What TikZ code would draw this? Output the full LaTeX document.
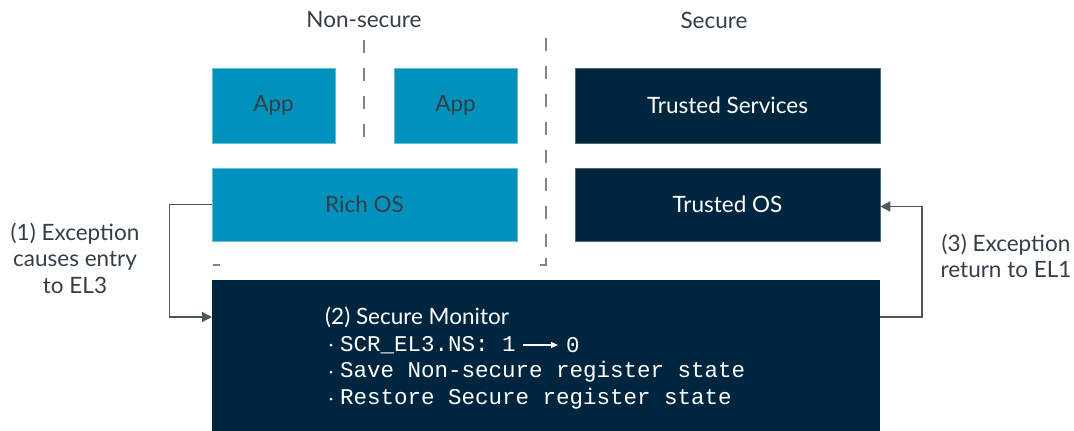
\documentclass[tikz,border=0pt]{standalone}
\usepackage{fontspec}
\setmainfont{Lato}
\newfontfamily\monofnt{Liberation Mono}
\usetikzlibrary{arrows.meta}
\definecolor{lblue}{HTML}{0091BD}
\definecolor{navy}{HTML}{00263F}
\definecolor{txtgray}{HTML}{333E48}
\definecolor{lngray}{HTML}{4F575E}
\definecolor{dashgray}{HTML}{7D868C}
\tikzset{
  nsbox/.style={fill=lblue, draw=lblue!60!white, line width=0.6pt, inner sep=0pt, text=txtgray, font=\fontsize{22.5}{26}\selectfont},
  sbox/.style={fill=navy, draw=navy!70!white, line width=0.6pt, inner sep=0pt, text=white, font=\fontsize{22.5}{26}\selectfont},
  conn/.style={draw=lngray, line width=1.4pt, -{Triangle[length=10pt,width=10pt]}},
  lbl/.style={text=txtgray, font=\fontsize{22.5}{26.5}\selectfont, align=center, inner sep=0pt},
  sep/.style={draw=dashgray, line width=1.6pt, dash pattern=on 13pt off 15pt},
  mono/.style={text=white, font=\monofnt\fontsize{22.5}{26}\selectfont, anchor=west, inner sep=0pt},
  dotb/.style={circle, fill=white, inner sep=0pt, minimum size=3pt}
}
\begin{document}
\begin{tikzpicture}[x=1pt,y=-1pt]
\useasboundingbox (0,0) rectangle (1074,431);
% headers
\node[lbl] (hns) at (364,20) {Non-secure};
\node[lbl] (hs) at (714,20) {Secure};
% separators
\draw[sep] (364,40) -- (364,146);
\draw[sep] (546,38) -- (546,262);
\draw[draw=dashgray, line width=1.6pt] (546,258) -- (546,265) -- (540,265);
\draw[draw=dashgray, line width=1.6pt] (213,265) -- (220,265);
% boxes
\node[nsbox, minimum width=123pt, minimum height=75pt] (app1) at (273.5,105.5) {App};
\node[nsbox, minimum width=123pt, minimum height=75pt] (app2) at (455.5,105.5) {App};
\node[sbox, minimum width=305pt, minimum height=75pt] (ts) at (727.5,105.5) {Trusted Services};
\node[nsbox, minimum width=305pt, minimum height=73pt] (rich) at (364.5,204.5) {Rich OS};
\node[sbox, minimum width=305pt, minimum height=73pt] (tos) at (727.5,204.5) {Trusted OS};
\node[fill=navy, inner sep=0pt, minimum width=668pt, minimum height=152pt] (mon) at (546,356) {};
% monitor text
\node[text=white, font=\fontsize{22.5}{26}\selectfont, anchor=west, inner sep=0pt] (mt) at (325,317) {(2) Secure Monitor};
\node[dotb] (d1) at (331,345) {};
\node[dotb] (d2) at (331,372) {};
\node[dotb] (d3) at (331,399) {};
\node[mono] (m1) at (340,345) {SCR\_EL3.NS: 1};
\node[mono] (m0) at (566,345) {0};
\draw[draw=white, line width=1.2pt, -{Triangle[length=7pt,width=6pt]}] ([xshift=7pt]m1.east) -- ([xshift=-8pt]m0.west);
\node[mono] (m2) at (340,372) {Save Non-secure register state};
\node[mono] (m3) at (340,399) {Restore Secure register state};
% side labels
\node[lbl] (l1) at (75,258) {(1) Exception\\causes entry\\to EL3};
\node[lbl] (l3) at (1006,256) {(3) Exception\\return to EL1};
% connectors
\coordinate (inL) at (212,317);
\coordinate (outR) at (880,317);
\draw[conn] (rich.west) -- ++(-42,0) |- (inL);
\draw[conn] (outR) -- ++(42,0) |- ([yshift=-2pt]tos.east);
\end{tikzpicture}
\end{document}
